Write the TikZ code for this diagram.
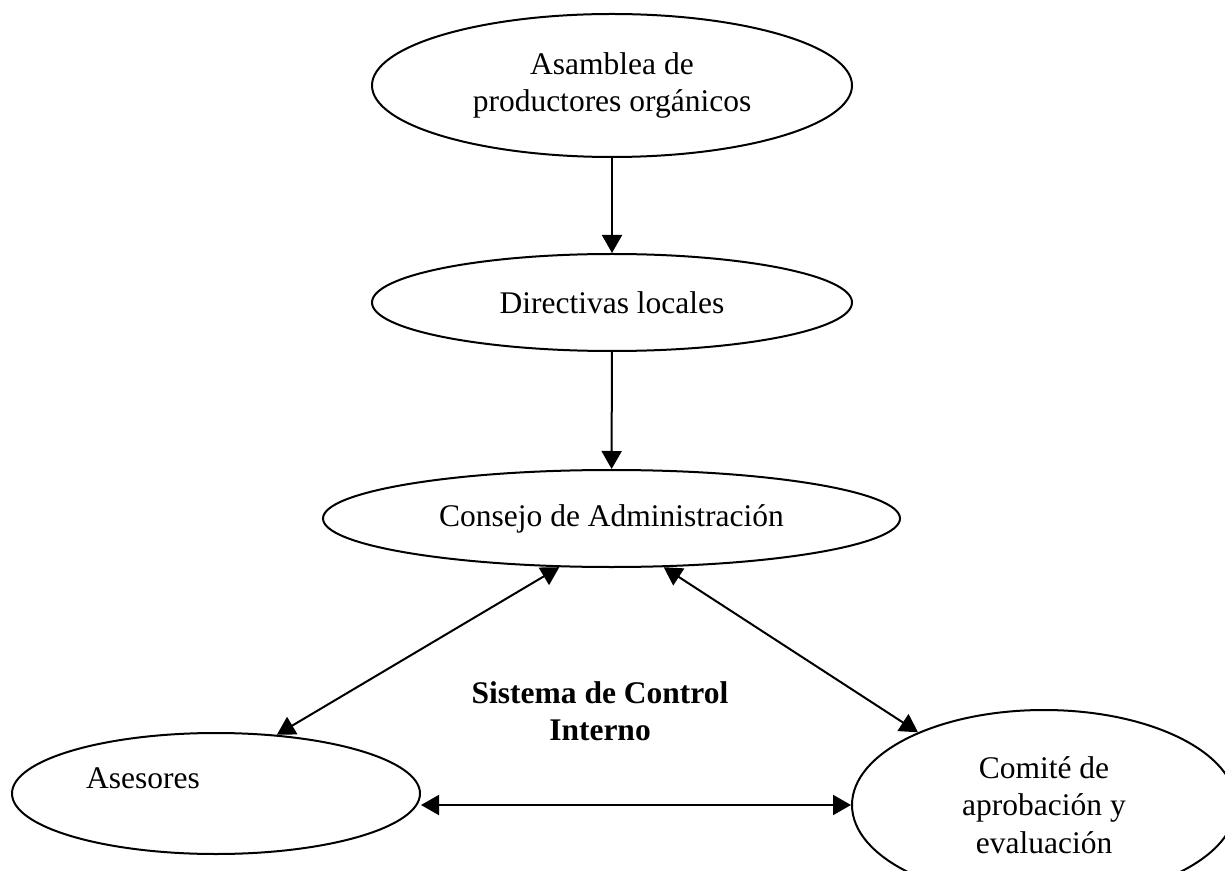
\documentclass[tikz,border=0pt]{standalone}
\usepackage{fontspec}
\setmainfont{Liberation Serif}
\usetikzlibrary{shapes.geometric,arrows.meta}

\begin{document}
\begin{tikzpicture}
        [x=0.5pt, y=-0.5pt, line width=1pt, >={Triangle[width=10pt,length=9pt]},
         font=\fontsize{15.75}{18.75}\selectfont,
         org/.style={draw, ellipse, align=center, inner sep=0pt}]
        \useasboundingbox (0,0) rectangle (1225,871);
        \node[org, minimum width=240pt, minimum height=71.5pt] (asam) at (612,85.5)
            {Asamblea de\\productores orgánicos};
        \node[org, minimum width=240pt, minimum height=48.5pt] (dir) at (612,302.5)
            {Directivas locales};
        \node[org, minimum width=288.5pt, minimum height=48.5pt] (cons) at (611.5,518.5)
            {Consejo de Administración};
        \node[org, minimum width=204pt, minimum height=60.5pt] (ase) at (216,793.5) {};
        \node[inner sep=0pt] (asetxt) at (143,778) {Asesores};
        \node[org, minimum width=192pt, minimum height=95pt] (com) at (1044,805)
            {Comité de\\aprobación y\\evaluación};
        \node[align=center, inner sep=0pt, font=\fontsize{15.75}{18.75}\selectfont\bfseries]
            (sci) at (600,711) {Sistema de Control\\Interno};

        \foreach \from/\to in {asam/dir,dir/cons}
        \draw[->] (\from) -- (\to);
        \foreach \from/\to in {cons.223/ase.44,cons.317/com.150}
        \draw[<->] (\from) -- (\to);
        \draw[<->] (com.west -| ase.east) -- (com.west);
    \end{tikzpicture}
\end{document}
